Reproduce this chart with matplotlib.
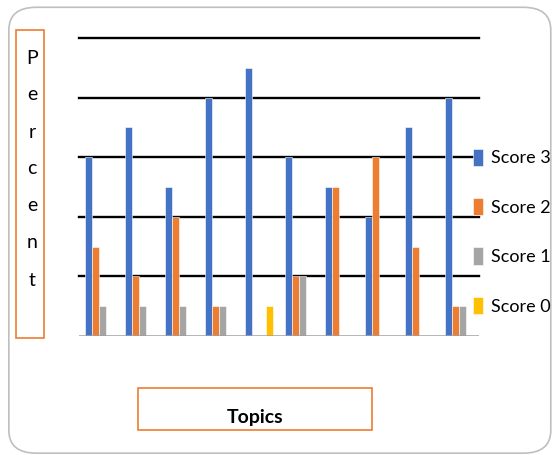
import numpy as np
import matplotlib.pyplot as plt
from matplotlib.patches import FancyBboxPatch, Rectangle
from matplotlib import font_manager

plt.rcParams['font.family'] = ['Lato', 'DejaVu Sans']
names = {f.name for f in font_manager.fontManager.ttflist}
narrow = 'Liberation Sans Narrow' if 'Liberation Sans Narrow' in names else 'Lato'

# data (percent per topic, per score level)
topics = np.arange(10)
series_names = ['Score 3', 'Score 2', 'Score 1', 'Score 0']
score3 = [30, 35, 25, 40, 45, 30, 25, 20, 35, 40]
score2 = [15, 10, 20, 5, 0, 10, 25, 30, 15, 5]
score1 = [5, 5, 5, 5, 0, 10, 0, 0, 0, 5]
score0 = [0, 0, 0, 0, 5, 0, 0, 0, 0, 0]
grid_vals = [10, 20, 30, 40, 50]

colors = ['#4472C4', '#ED7D31', '#A5A5A5', '#FFC000']

fig = plt.figure(figsize=(5.53, 4.55), dpi=100)

# rounded outer frame
frame = FancyBboxPatch((0.016, 0.004), 0.98, 0.98,
                       boxstyle='round,pad=0,rounding_size=0.05',
                       transform=fig.transFigure, fc='none', ec='#BFBFBF',
                       lw=1.2, zorder=-1)
fig.patches.append(frame)

ax = fig.add_axes([79 / 553, (455 - 336) / 455, 400 / 553, 298 / 455])
ax.set_facecolor('none')

w = 0.18
all_series = [score3, score2, score1, score0]
for k, (vals, name, col) in enumerate(zip(all_series, series_names, colors)):
    ax.bar(topics + (k - 1.5) * w, vals, width=w, color=col,
           edgecolor='white', linewidth=0.4, label=name, zorder=3)

for g in grid_vals:
    ax.axhline(g, color='black', lw=1.7, zorder=1, clip_on=False)
ax.axhline(0, color='#A0A0A0', lw=1.8, zorder=4)

ax.set_xlim(-0.5, 9.5)
ax.set_ylim(0, 50)
ax.set_xticks([])
ax.set_yticks([])
for s in ax.spines.values():
    s.set_visible(False)

ax.legend(loc='center left', bbox_to_anchor=(0.985, 0.35), frameon=False,
          prop={'family': narrow, 'size': 13}, handlelength=0.55,
          handleheight=1.1, handletextpad=0.45, labelspacing=1.75,
          borderaxespad=0, borderpad=0)

# y label box with stacked letters
fig.patches.append(Rectangle((16 / 553, 1 - 338 / 455), 28 / 553, 308 / 455,
                             transform=fig.transFigure, fc='none',
                             ec='#ED7D31', lw=1.2))
for i, ch in enumerate('Percent'):
    fig.text(32 / 553, 1 - (58 + i * 37) / 455, ch, ha='center',
             va='center', fontsize=14)

# x label box
fig.patches.append(Rectangle((138 / 553, 1 - 430 / 455), 234 / 553, 42 / 455,
                             transform=fig.transFigure, fc='none',
                             ec='#ED7D31', lw=1.2))
fig.text(255 / 553, 1 - 418 / 455, 'Topics', ha='center', va='center',
         fontsize=14, fontweight='bold')

fig.savefig('out.png', dpi=100)
